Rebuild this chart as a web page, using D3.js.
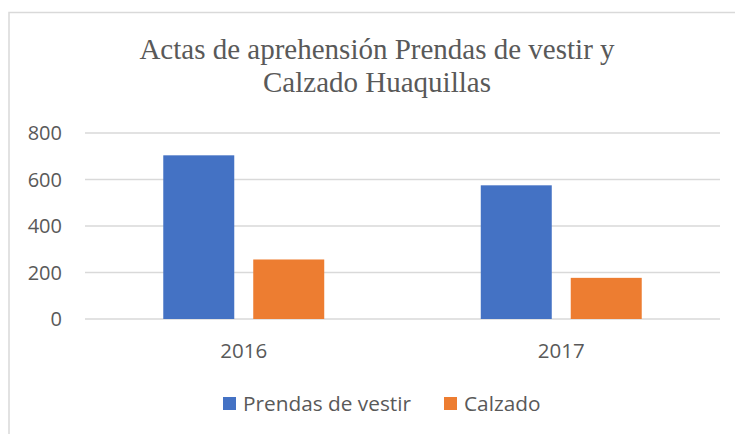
<!DOCTYPE html>
<html>
<head>
<meta charset="utf-8">
<script src="https://cdn.jsdelivr.net/npm/d3@7"></script>
<style>
  body { margin: 0; background: #fff; }
  text { fill: #595959; }
</style>
</head>
<body>
<div id="chart"></div>
<script>
// data
var years = ["2016", "2017"];
var seriesNames = ["Prendas de vestir", "Calzado"];
var prendas = [704, 575];
var calzado = [256, 177];
var yTicks = [0, 200, 400, 600, 800];
var titleLines = ["Actas de aprehensión Prendas de vestir y", "Calzado Huaquillas"];

var colors = ["#4472C4", "#ED7D31"];

var W = 735, H = 434;
var margin = {top: 133, right: 15, bottom: 115, left: 85},
    width = W - margin.left - margin.right,
    height = H - margin.top - margin.bottom;

var svg = d3.select("#chart").append("svg")
    .attr("width", W)
    .attr("height", H);

// outer chart border (runs off the right and bottom edges)
svg.append("rect")
    .attr("x", 9).attr("y", 12.5)
    .attr("width", 760).attr("height", 440)
    .attr("fill", "#fff")
    .attr("stroke", "#d9d9d9")
    .attr("stroke-width", 1.5);

// title
svg.append("g").selectAll("text")
    .data(titleLines)
    .enter().append("text")
    .attr("x", 377)
    .attr("y", function(d, i) { return 59 + i * 33; })
    .attr("text-anchor", "middle")
    .style("font-family", "'Liberation Serif', 'Times New Roman', serif")
    .style("font-size", "29px")
    .text(function(d) { return d; });

var g = svg.append("g")
    .attr("transform", "translate(" + margin.left + "," + margin.top + ")");

var y = d3.scaleLinear()
    .domain([0, 800])
    .range([height, 0]);

var x0 = d3.scaleBand()
    .domain(years)
    .range([0, width])
    .paddingInner(0.493)
    .paddingOuter(0.2465);

var x1 = d3.scaleBand()
    .domain(seriesNames)
    .range([0, x0.bandwidth()])
    .paddingInner(0.211);

// gridlines
g.append("g").selectAll("line")
    .data(yTicks)
    .enter().append("line")
    .attr("x1", 0).attr("x2", width)
    .attr("y1", function(d) { return y(d); })
    .attr("y2", function(d) { return y(d); })
    .attr("stroke", "#d9d9d9")
    .attr("stroke-width", 1.3);

// y labels
g.append("g").selectAll("text")
    .data(yTicks)
    .enter().append("text")
    .attr("x", -23)
    .attr("y", function(d) { return y(d); })
    .attr("dy", "0.36em")
    .attr("text-anchor", "end")
    .style("font-family", "'Open Sans', sans-serif")
    .style("font-size", "20px")
    .text(function(d) { return d; });

// bars
var table = years.map(function(yr, i) {
  return {year: yr, values: [prendas[i], calzado[i]]};
});

g.append("g").selectAll("g")
    .data(table)
    .enter().append("g")
    .attr("transform", function(d) { return "translate(" + x0(d.year) + ",0)"; })
    .selectAll("rect")
    .data(function(d) { return d.values.map(function(v, k) { return {key: seriesNames[k], value: v, k: k}; }); })
    .enter().append("rect")
    .attr("x", function(d) { return x1(d.key); })
    .attr("y", function(d) { return y(d.value); })
    .attr("width", x1.bandwidth())
    .attr("height", function(d) { return height - y(d.value); })
    .attr("fill", function(d) { return colors[d.k]; });

// x labels
g.append("g").selectAll("text")
    .data(years)
    .enter().append("text")
    .attr("x", function(d) { return x0(d) + x0.bandwidth() / 2; })
    .attr("y", height + 39)
    .attr("text-anchor", "middle")
    .style("font-family", "'Open Sans', sans-serif")
    .style("font-size", "20.5px")
    .text(function(d) { return d; });

// legend
var legendX = [223, 444];
var legend = svg.append("g").selectAll("g")
    .data(seriesNames)
    .enter().append("g")
    .attr("transform", function(d, i) { return "translate(" + legendX[i] + ",397)"; });

legend.append("rect")
    .attr("width", 13).attr("height", 13)
    .attr("fill", function(d, i) { return colors[i]; });

legend.append("text")
    .attr("x", 20)
    .attr("y", 13.5)
    .style("font-family", "'Open Sans', sans-serif")
    .style("font-size", "20.8px")
    .text(function(d) { return d; });
</script>
</body>
</html>
